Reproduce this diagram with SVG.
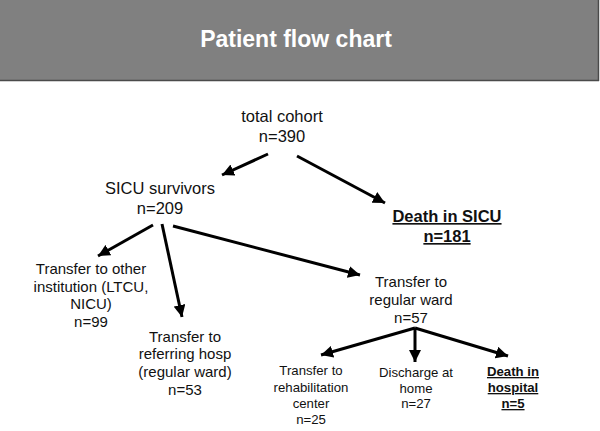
<svg xmlns="http://www.w3.org/2000/svg" width="600" height="431" viewBox="0 0 600 431">
<style>
text{font-family:"Liberation Sans",Arial,sans-serif;fill:#111;text-anchor:middle}
.t1{font-size:16.5px}
.t2{font-size:15px}
.t3{font-size:13.2px}
.b{font-weight:bold;text-decoration:underline}
.title{font-size:23px;font-weight:bold;fill:#fff}
.c line{stroke:#000;stroke-width:3;marker-end:url(#ah)}
</style>
<defs>
<marker id="ah" markerUnits="userSpaceOnUse" markerWidth="14" markerHeight="12" refX="12" refY="6" orient="auto">
<path d="M0,0 L12,6 L0,12 Z" fill="#000"/>
</marker>
</defs>
<g id="header">
<rect x="0" y="0" width="599" height="81" fill="#808080"/>
<line x1="0" y1="80.5" x2="599" y2="80.5" stroke="#4a4a4a" stroke-width="1.5"/>
<line x1="598.5" y1="0" x2="598.5" y2="81" stroke="#4a4a4a" stroke-width="1.5"/>
<text class="title" x="296" y="47">Patient flow chart</text>
</g>
<g class="c" id="connectors">
<line x1="268" y1="154" x2="222" y2="175"/>
<line x1="297" y1="156" x2="385" y2="203"/>
<line x1="153" y1="225" x2="98" y2="256"/>
<line x1="162" y1="224" x2="182" y2="317"/>
<line x1="173" y1="226" x2="360" y2="275"/>
<line x1="415" y1="328" x2="321" y2="355"/>
<line x1="415" y1="328" x2="415" y2="362"/>
<line x1="415" y1="328" x2="508" y2="356"/>
</g>
<g id="total"><text class="t1" x="282" y="122">total cohort</text><text class="t1" x="282" y="142">n=390</text></g>
<g id="survivors"><text class="t1" x="160" y="194">SICU survivors</text><text class="t1" x="160" y="214">n=209</text></g>
<g id="deathsicu"><text class="t1 b" x="447" y="222">Death in SICU</text><text class="t1 b" x="447" y="242">n=181</text></g>
<g id="other"><text class="t2" x="91" y="274">Transfer to other</text><text class="t2" x="91" y="292">institution (LTCU,</text><text class="t2" x="91" y="309">NICU)</text><text class="t2" x="91" y="327">n=99</text></g>
<g id="referring"><text class="t2" x="185" y="342">Transfer to</text><text class="t2" x="185" y="359">referring hosp</text><text class="t2" x="185" y="377">(regular ward)</text><text class="t2" x="185" y="395">n=53</text></g>
<g id="ward"><text class="t2" x="411" y="287">Transfer to</text><text class="t2" x="411" y="305">regular ward</text><text class="t2" x="411" y="323">n=57</text></g>
<g id="rehab"><text class="t3" x="311" y="375">Transfer to</text><text class="t3" x="311" y="392">rehabilitation</text><text class="t3" x="311" y="408">center</text><text class="t3" x="311" y="424">n=25</text></g>
<g id="home"><text class="t3" x="416" y="377">Discharge at</text><text class="t3" x="416" y="393">home</text><text class="t3" x="416" y="408">n=27</text></g>
<g id="deathhosp"><text class="t3 b" x="513" y="376">Death in</text><text class="t3 b" x="513" y="392">hospital</text><text class="t3 b" x="513" y="408">n=5</text></g>
</svg>
